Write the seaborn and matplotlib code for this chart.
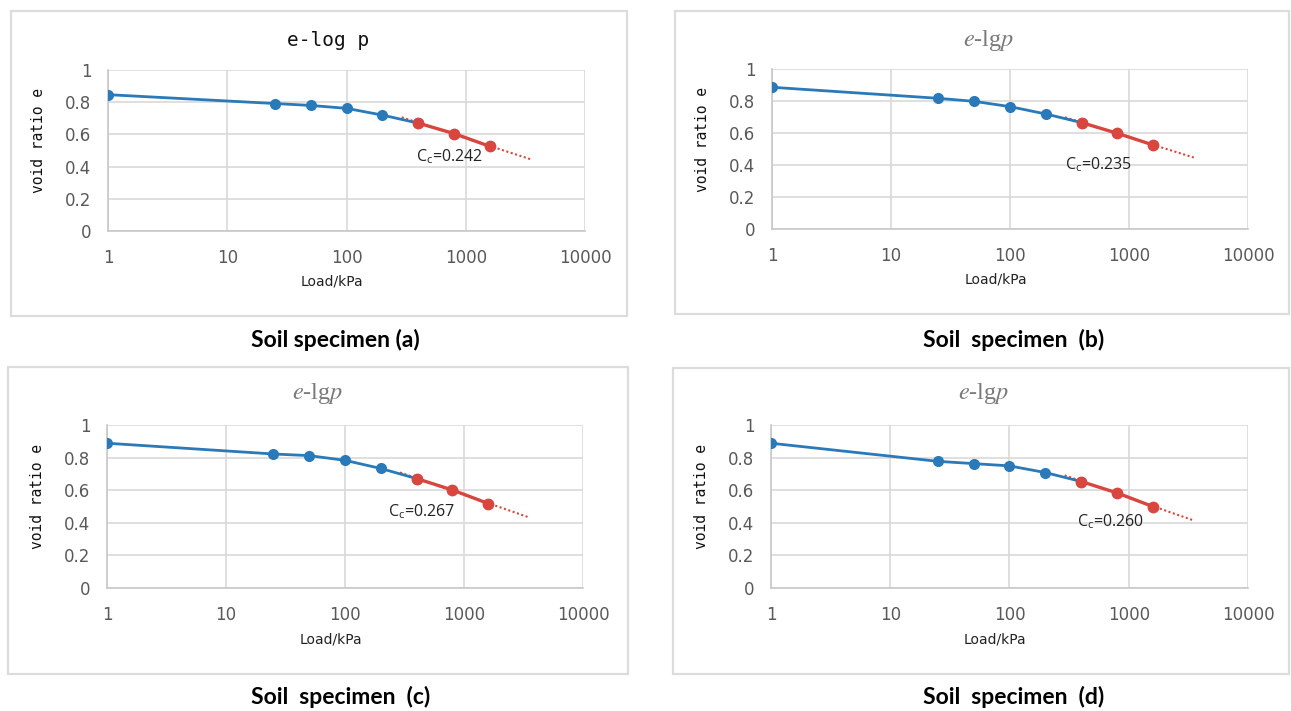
import numpy as np
import pandas as pd
import seaborn as sns
import matplotlib.pyplot as plt
from matplotlib.patches import Rectangle
from matplotlib.ticker import FixedLocator, FixedFormatter, NullLocator

sns.set_style("white")

# ======================
# data

load = [1, 25, 50, 100, 200, 400, 800, 1600]

e_a = [0.847, 0.792, 0.780, 0.762, 0.720, 0.670, 0.605, 0.525]
e_b = [0.886, 0.817, 0.798, 0.765, 0.719, 0.665, 0.598, 0.525]
e_c = [0.888, 0.822, 0.812, 0.783, 0.733, 0.671, 0.601, 0.518]
e_d = [0.888, 0.777, 0.763, 0.749, 0.708, 0.653, 0.583, 0.499]

cc_labels = ['0.242', '0.235', '0.267', '0.260']
captions = ['Soil specimen (a)', 'Soil  specimen  (b)',
            'Soil  specimen  (c)', 'Soil  specimen  (d)']
titles = ['e-log p', 'e-lgp', 'e-lgp', 'e-lgp']

x_ticks = [1, 10, 100, 1000, 10000]
x_ticklabels = ['1', '10', '100', '1000', '10000']
y_ticks = [0, 0.2, 0.4, 0.6, 0.8, 1]
y_ticklabels = ['0', '0.2', '0.4', '0.6', '0.8', '1']

# extent of the dotted trend line (kPa)
trend_range = [290, 3500]

# ======================
# layout (figure fractions)

BLUE = '#2a79b9'
RED = '#d8463f'
GRID = '#d9d9d9'

panels = [
    # axes rect, box rect, caption pos, cc text pos, title pos
    dict(ax=[0.0837, 0.6751, 0.3695, 0.2264], box=[0.0085, 0.5556, 0.4772, 0.4290],
         cap=(0.2595, 0.522), cc=(383, 0.46), tt=(0.461, 1.186)),
    dict(ax=[0.5980, 0.6779, 0.3687, 0.2250], box=[0.5229, 0.5584, 0.4757, 0.4262],
         cap=(0.7855, 0.522), cc=(290, 0.40), tt=(0.454, 1.18)),
    dict(ax=[0.0829, 0.1730, 0.3687, 0.2293], box=[0.0062, 0.0520, 0.4803, 0.4320],
         cap=(0.2641, 0.0197), cc=(230, 0.47), tt=(0.443, 1.196)),
    dict(ax=[0.5972, 0.1730, 0.3695, 0.2293], box=[0.5213, 0.0520, 0.4773, 0.4306],
         cap=(0.7855, 0.0197), cc=(368, 0.41), tt=(0.446, 1.196)),
]

fig = plt.figure(figsize=(12.91, 7.11), dpi=100)
fig.patch.set_facecolor('white')


def draw_panel(p, e_vals, cc, title, caption, mono_title):
    # panel frame
    fig.patches.append(Rectangle((p['box'][0], p['box'][1]), p['box'][2], p['box'][3],
                                 transform=fig.transFigure, fill=False,
                                 edgecolor='#dcdcdc', linewidth=1.6))

    ax = fig.add_axes(p['ax'])
    ax.set_xscale('log')
    ax.set_xlim(1, 10000)
    ax.set_ylim(0, 1)

    df = pd.DataFrame({'load': load, 'e': e_vals})
    blue_part = df.iloc[:6]
    red_part = df.iloc[5:]

    # dotted trend line fitted through the red points
    k, b = np.polyfit(np.log10(red_part['load']), red_part['e'], 1)
    tx = np.array(trend_range)
    trend = pd.DataFrame({'load': tx, 'e': k * np.log10(tx) + b})
    sns.lineplot(data=trend, x='load', y='e', ax=ax, color=RED,
                 linewidth=1.5, linestyle=(0, (1, 1.2)), zorder=3)

    sns.lineplot(data=blue_part, x='load', y='e', ax=ax, color=BLUE,
                 linewidth=2.0, marker='o', markersize=8,
                 markeredgewidth=0, zorder=4)
    sns.lineplot(data=red_part, x='load', y='e', ax=ax, color=RED,
                 linewidth=2.4, marker='o', markersize=8.5,
                 markeredgewidth=0, zorder=5)

    # Excel-like grid and axes
    ax.xaxis.set_major_locator(FixedLocator(x_ticks))
    ax.xaxis.set_major_formatter(FixedFormatter(x_ticklabels))
    ax.xaxis.set_minor_locator(NullLocator())
    ax.yaxis.set_major_locator(FixedLocator(y_ticks))
    ax.yaxis.set_major_formatter(FixedFormatter(y_ticklabels))
    ax.grid(True, color=GRID, linewidth=1.2)
    ax.set_axisbelow(True)
    for side in ['top', 'right']:
        ax.spines[side].set_visible(False)
    for side in ['left', 'bottom']:
        ax.spines[side].set_color('#c8c8c8')
        ax.spines[side].set_linewidth(1.2)
    ax.tick_params(axis='both', length=0, labelsize=12, labelcolor='#595959')
    ax.tick_params(axis='x', pad=13)
    ax.tick_params(axis='y', pad=12)

    ax.set_xlabel('Load/kPa', fontsize=10, color='#222222')
    ax.xaxis.set_label_coords(0.47, -0.27)
    ax.set_ylabel('void ratio e', family='DejaVu Sans Mono', fontsize=10.5,
                  color='#111111')
    ax.yaxis.set_label_coords(-0.13, 0.56)

    if mono_title:
        ax.text(p['tt'][0], p['tt'][1], title, transform=ax.transAxes,
                family='DejaVu Sans Mono', fontsize=14, color='#111111',
                ha='center', va='center')
    else:
        ax.text(p['tt'][0], p['tt'][1], r'$e$-lg$p$', transform=ax.transAxes,
                family='Liberation Serif', fontsize=17.5, color='#7a7a7a',
                ha='center', va='center', math_fontfamily='stix')

    ax.text(p['cc'][0], p['cc'][1], r'C$_\mathregular{c}$=' + cc,
            family='Open Sans', fontsize=11.5, color='#222222',
            ha='left', va='center', zorder=6)

    fig.text(p['cap'][0], p['cap'][1], caption, family='Lato',
             fontweight='bold', fontsize=16.5, color='black',
             ha='center', va='center')


all_e = [e_a, e_b, e_c, e_d]
for i in range(4):
    draw_panel(panels[i], all_e[i], cc_labels[i], titles[i], captions[i], i == 0)

plt.savefig('out.png', dpi=100, facecolor='white')
plt.close()
